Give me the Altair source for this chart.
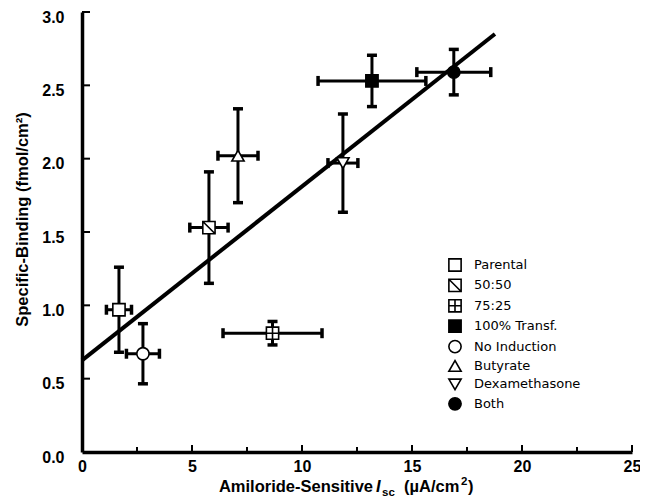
import altair as alt
import pandas as pd

# ---- data ----
groups = ["Parental", "50:50", "75:25", "100% Transf.",
          "No Induction", "Butyrate", "Dexamethasone", "Both"]
isc = [1.68, 5.77, 8.66, 13.18, 2.77, 7.09, 11.86, 16.90]
isc_err = [0.57, 0.87, 2.25, 2.45, 0.75, 0.91, 0.68, 1.68]
binding = [0.97, 1.53, 0.81, 2.53, 0.67, 2.02, 1.97, 2.59]
binding_err = [0.29, 0.38, 0.08, 0.175, 0.205, 0.32, 0.335, 0.155]

shapes = ["square",
          "M-1,-1H1V1H-1Z M-1,-1L1,1",
          "M-1,-1H1V1H-1Z M0,-1V1 M-1,0H1",
          "square", "circle", "triangle-up", "triangle-down", "circle"]
fills = ["white", "white", "white", "black", "white", "white", "white", "black"]
strokes = ["black"] * 8

fit_x = [0.0, 18.77]
fit_y = [0.625, 2.85]

x_major = [0, 5, 10, 15, 20, 25]
x_minor = [2.5, 7.5, 12.5, 17.5, 22.5]
y_ticks = [0.5, 1.0, 1.5, 2.0, 2.5, 3.0]
y_labels = [0.0, 0.5, 1.0, 1.5, 2.0, 2.5, 3.0]

df = pd.DataFrame({"group": groups, "x": isc, "xe": isc_err,
                   "y": binding, "ye": binding_err})
df["x_lo"] = df["x"] - df["xe"]
df["x_hi"] = df["x"] + df["xe"]
df["y_lo"] = df["y"] - df["ye"]
df["y_hi"] = df["y"] + df["ye"]

fit_df = pd.DataFrame({"x": fit_x, "y": fit_y})

FONT = "Liberation Sans"
W, H = 550, 440

xs = alt.Scale(domain=[0, 25], nice=False, zero=False)
ys = alt.Scale(domain=[0, 3], nice=False, zero=False)

xaxis = alt.Axis(values=x_major, ticks=False, tickSize=0, grid=False,
                 domainWidth=3.5, domainColor="black", labelFont=FONT,
                 labelFontSize=16, labelFontWeight="bold", labelColor="black",
                 labelPadding=6, labelFlush=False, format="d", title=None)
yaxis = alt.Axis(values=y_labels, ticks=False, tickSize=0, grid=False,
                 domainWidth=3.5, domainColor="black", labelFont=FONT,
                 labelFontSize=16, labelFontWeight="bold", labelColor="black",
                 labelPadding=18, labelOffset=5, labelFlush=False, format=".1f",
                 title="Specific-Binding (fmol/cm²)", titleFont=FONT,
                 titleFontSize=16.5, titleFontWeight="bold", titleColor="black",
                 titleAngle=270, titleX=-60, titleY=207, titleAlign="center",
                 titleBaseline="middle")


def X(field):
    return alt.X(field, type="quantitative", scale=xs, axis=xaxis)


def Y(field):
    return alt.Y(field, type="quantitative", scale=ys, axis=yaxis)


fit = alt.Chart(fit_df).mark_line(color="black", strokeWidth=4).encode(
    x=X("x"), y=Y("y"))

vbar = alt.Chart(df).mark_rule(color="black", strokeWidth=3).encode(
    x=X("x"), y=Y("y_lo"), y2="y_hi")
hbar = alt.Chart(df).mark_rule(color="black", strokeWidth=3).encode(
    x=X("x_lo"), x2="x_hi", y=Y("y"))


def cap(xf, yf, orient):
    return alt.Chart(df).mark_tick(color="black", orient=orient, size=10,
                                   thickness=3.5, opacity=1).encode(
        x=X(xf), y=Y(yf))


caps = [cap("x", "y_lo", "horizontal"), cap("x", "y_hi", "horizontal"),
        cap("x_lo", "y", "vertical"), cap("x_hi", "y", "vertical")]

legend = alt.Legend(title=None, orient="none", legendX=366, legendY=246,
                    padding=0, labelFont="DejaVu Sans", labelFontSize=13,
                    labelColor="black", symbolSize=150,
                    symbolStrokeWidth=1.6, rowPadding=0.4, labelOffset=12,
                    symbolOpacity=1)

points = alt.Chart(df).mark_point(filled=True, size=150, strokeWidth=1.6,
                                  opacity=1).encode(
    x=X("x"), y=Y("y"),
    shape=alt.Shape("group:N", scale=alt.Scale(domain=groups, range=shapes),
                    legend=legend, sort=groups),
    fill=alt.Fill("group:N", scale=alt.Scale(domain=groups, range=fills),
                  legend=legend, sort=groups),
    stroke=alt.Stroke("group:N", scale=alt.Scale(domain=groups, range=strokes),
                      legend=legend, sort=groups),
)

xt_major = pd.DataFrame({"v": x_major})
xt_minor = pd.DataFrame({"v": x_minor})
yt = pd.DataFrame({"v": y_ticks})

tick_xmaj = alt.Chart(xt_major).mark_rule(color="black", strokeWidth=2).encode(
    x=X("v"), y=alt.value(H), y2=alt.value(H - 7))
tick_xmin = alt.Chart(xt_minor).mark_rule(color="black", strokeWidth=2).encode(
    x=X("v"), y=alt.value(H), y2=alt.value(H - 5))
tick_y = alt.Chart(yt).mark_rule(color="black", strokeWidth=2).encode(
    y=Y("v"), x=alt.value(0), x2=alt.value(8))

# x-axis title assembled from pieces (italic I, subscript sc, superscript 2)
tdf = pd.DataFrame({"t": [0]})


def piece(text, x, y, size, align="left", style="normal"):
    return alt.Chart(tdf).mark_text(
        text=text, align=align, baseline="alphabetic", font=FONT,
        fontSize=size, fontWeight="bold", fontStyle=style, color="black"
    ).encode(x=alt.value(x), y=alt.value(y))


TB = 480
title_layers = [
    piece("Amiloride-Sensitive", 291, TB, 16.5, align="right"),
    piece("I", 294, TB, 16.5, style="italic"),
    piece("sc", 300, TB + 4, 11.5),
    piece("(µA/cm", 322, TB, 16.5),
    piece("2", 379, TB - 7, 11.5),
    piece(")", 386, TB, 16.5),
]

chart = alt.layer(
    fit, vbar, hbar, *caps,
    tick_xmaj, tick_xmin, tick_y, points, *title_layers
).properties(
    width=W, height=H,
    autosize=alt.AutoSizeParams(type="none"),
    padding={"left": 74, "top": 4, "right": 8, "bottom": 46},
    background="white",
).configure_view(stroke=None)

chart.save("out.html", embed_options={"renderer": "svg", "actions": False})
